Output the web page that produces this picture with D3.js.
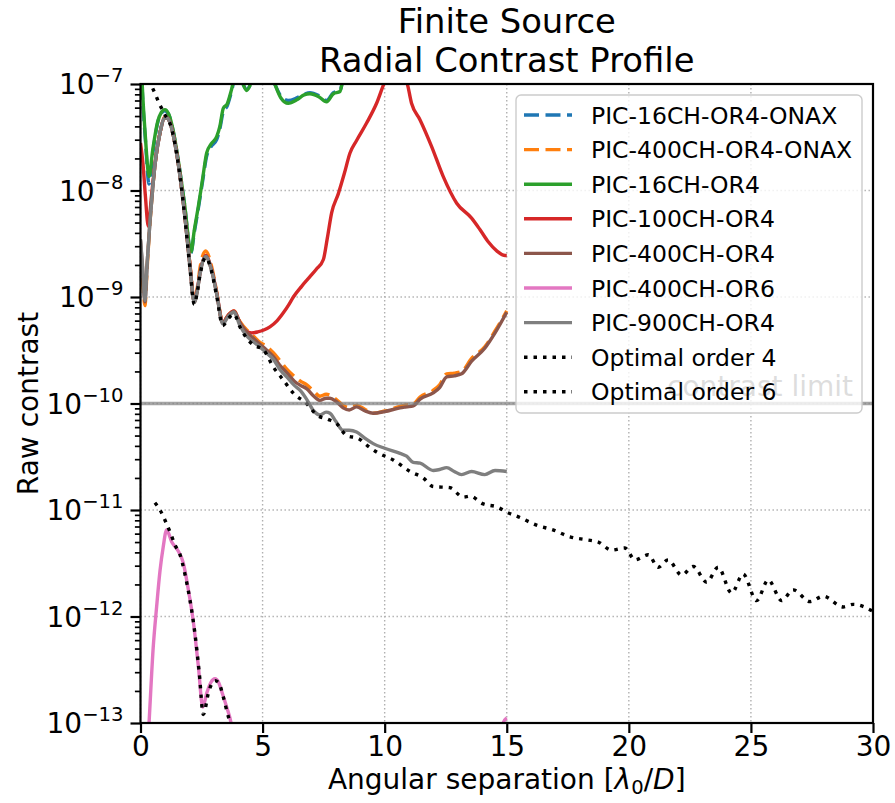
<!DOCTYPE html>
<html>
<head>
<meta charset="utf-8">
<script src="https://cdn.jsdelivr.net/npm/d3@7"></script>
<style>
  body { margin: 0; background: #fff; }
  text { font-family: "DejaVu Sans", sans-serif; }
</style>
</head>
<body>
<div id="chart"></div>
<script>
// values: separation in lambda0/D, raw contrast
var sepOnax16 = [0, 0.07, 0.2, 0.35, 0.5, 0.7, 0.85, 1.0, 1.15, 1.35, 1.55, 1.8, 2.07, 2.2, 2.37, 2.55, 2.71, 2.9, 3.12, 3.25, 3.39, 3.55, 3.73, 3.9, 4.1, 4.35, 4.6, 5.0, 5.3, 5.5, 5.75, 6.05, 6.4, 6.7, 6.94, 7.3, 7.62, 7.9, 8.17, 8.3, 8.6, 9.0, 10.0, 12.0, 15.0];
var onax16 = [2.5e-7, 9.0e-8, 3.0e-8, 1.15e-8, 2.2e-8, 4.3e-8, 5.3e-8, 5.6e-8, 5.2e-8, 3.5e-8, 1.9e-8, 7.5e-9, 2.6e-9, 4.0e-9, 6.8e-9, 1.25e-8, 2.1e-8, 2.6e-8, 3.0e-8, 3.8e-8, 5.5e-8, 6.2e-8, 8.5e-8, 1.2e-7, 1.1e-7, 8.9e-8, 1.1e-7, 1.6e-7, 1.32e-7, 1.0e-7, 7.7e-8, 7.0e-8, 7.4e-8, 8.0e-8, 8.3e-8, 7.8e-8, 7.0e-8, 8.3e-8, 8.7e-8, 1.12e-7, 1.6e-7, 2.0e-7, 2.5e-7, 2.5e-7, 3.0e-7];

var sep16 = sepOnax16;
var ch16 = [2.5e-7, 1.0e-7, 3.2e-8, 1.35e-8, 2.4e-8, 4.4e-8, 5.4e-8, 5.75e-8, 5.25e-8, 3.55e-8, 1.9e-8, 7.6e-9, 2.66e-9, 4.2e-9, 7.1e-9, 1.32e-8, 2.25e-8, 2.75e-8, 3.2e-8, 4.0e-8, 5.9e-8, 6.5e-8, 8.9e-8, 1.26e-7, 1.12e-7, 8.7e-8, 1.12e-7, 1.6e-7, 1.32e-7, 1.0e-7, 7.4e-8, 6.6e-8, 7.1e-8, 7.9e-8, 8.1e-8, 7.6e-8, 6.8e-8, 8.1e-8, 8.5e-8, 1.12e-7, 1.6e-7, 2.0e-7, 2.5e-7, 2.5e-7, 3.0e-7];

var sepMain = [0, 0.08, 0.18, 0.28, 0.39, 0.5, 0.6, 0.8, 1.0, 1.1, 1.21, 1.41, 1.62, 1.82, 2.03, 2.2, 2.32, 2.44, 2.67, 2.91, 3.12, 3.37, 3.6, 3.83, 4.07, 4.35, 4.62, 4.89, 5.15, 5.44, 5.7, 5.99, 6.3, 6.55, 6.8, 7.1, 7.35, 7.6, 7.76, 8.0, 8.3, 8.55, 8.85, 9.2, 9.53, 10.0, 10.63, 10.9, 11.17, 11.45, 11.99, 12.25, 12.54, 12.85, 13.15, 13.56, 14.1, 14.52, 15.0];
var onax400 = [2.4e-9, 1.5e-9, 8.3e-10, 2.0e-9, 5.0e-9, 1.05e-8, 1.8e-8, 3.5e-8, 4.9e-8, 4.9e-8, 4.4e-8, 2.8e-8, 1.38e-8, 5.8e-9, 2.0e-9, 9.2e-10, 1.2e-9, 1.9e-9, 2.7e-9, 1.95e-9, 1.12e-9, 5.8e-10, 6.8e-10, 7.4e-10, 5.9e-10, 4.9e-10, 4.3e-10, 3.75e-10, 3.45e-10, 3.0e-10, 2.55e-10, 2.1e-10, 1.8e-10, 1.62e-10, 1.5e-10, 1.3e-10, 1.17e-10, 1.22e-10, 1.2e-10, 1.1e-10, 9.6e-11, 9.2e-11, 9.6e-11, 8.8e-11, 8.1e-11, 8.5e-11, 9.4e-11, 9.7e-11, 9.9e-11, 1.15e-10, 1.33e-10, 1.5e-10, 1.9e-10, 1.93e-10, 2.0e-10, 2.65e-10, 3.4e-10, 4.8e-10, 7.4e-10];
var ch400or4 = [3.4e-9, 1.9e-9, 9.0e-10, 2.2e-9, 5.2e-9, 1.05e-8, 1.8e-8, 3.5e-8, 4.8e-8, 4.8e-8, 4.3e-8, 2.75e-8, 1.35e-8, 5.6e-9, 1.9e-9, 8.9e-10, 1.12e-9, 1.7e-9, 2.4e-9, 1.8e-9, 1.08e-9, 5.7e-10, 6.7e-10, 7.3e-10, 5.75e-10, 4.7e-10, 4.1e-10, 3.6e-10, 3.2e-10, 2.75e-10, 2.3e-10, 1.95e-10, 1.62e-10, 1.48e-10, 1.38e-10, 1.17e-10, 1.07e-10, 1.12e-10, 1.12e-10, 1.05e-10, 9.1e-11, 8.7e-11, 9.3e-11, 8.5e-11, 8.1e-11, 8.4e-11, 9.1e-11, 9.3e-11, 9.5e-11, 1.1e-10, 1.26e-10, 1.41e-10, 1.78e-10, 1.82e-10, 1.9e-10, 2.5e-10, 3.3e-10, 4.6e-10, 7.2e-10];
var ch900or4 = [3.5e-9, 2.0e-9, 9.3e-10, 2.2e-9, 5.2e-9, 1.05e-8, 1.8e-8, 3.5e-8, 4.8e-8, 4.8e-8, 4.3e-8, 2.75e-8, 1.35e-8, 5.6e-9, 1.9e-9, 8.9e-10, 1.12e-9, 1.66e-9, 2.4e-9, 1.78e-9, 1.07e-9, 5.6e-10, 6.6e-10, 7.2e-10, 5.4e-10, 4.3e-10, 3.8e-10, 3.4e-10, 3.0e-10, 2.6e-10, 2.1e-10, 1.78e-10, 1.48e-10, 1.32e-10, 1.1e-10, 8.5e-11, 7.8e-11, 8.3e-11, 8.1e-11, 6.8e-11, 5.6e-11, 5.6e-11, 5.4e-11, 4.7e-11, 4.2e-11, 3.8e-11, 3.4e-11, 3.2e-11, 2.8e-11, 2.75e-11, 2.35e-11, 2.4e-11, 2.5e-11, 2.3e-11, 2.15e-11, 2.3e-11, 2.15e-11, 2.35e-11, 2.3e-11];

var sep100 = [0, 0.1, 0.2, 0.32, 0.45, 0.6, 0.8, 1.0, 1.1, 1.21, 1.41, 1.62, 1.82, 2.03, 2.2, 2.32, 2.44, 2.67, 2.91, 3.12, 3.37, 3.6, 3.83, 4.07, 4.3, 4.55, 4.8, 5.05, 5.3, 5.6, 5.85, 6.05, 6.26, 6.6, 6.94, 7.2, 7.49, 7.65, 7.83, 8.1, 8.35, 8.58, 8.85, 9.26, 9.67, 10.01, 10.3, 10.6, 10.9, 11.1, 11.45, 11.92, 12.4, 12.95, 13.56, 13.9, 14.24, 14.6, 14.93, 15.0];
var ch100 = [2.8e-8, 1.8e-8, 8.9e-9, 4.6e-9, 8.9e-9, 1.8e-8, 3.5e-8, 4.8e-8, 4.8e-8, 4.35e-8, 2.8e-8, 1.38e-8, 5.7e-9, 1.95e-9, 9.1e-10, 1.15e-9, 1.7e-9, 2.45e-9, 1.82e-9, 1.1e-9, 5.75e-10, 6.8e-10, 7.4e-10, 5.75e-10, 4.8e-10, 4.6e-10, 4.7e-10, 4.9e-10, 5.25e-10, 6.0e-10, 7.1e-10, 8.3e-10, 1.0e-9, 1.26e-9, 1.55e-9, 1.82e-9, 2.25e-9, 3.55e-9, 6.2e-9, 9.3e-9, 1.45e-8, 2.25e-8, 2.95e-8, 4.3e-8, 6.6e-8, 1.05e-7, 1.32e-7, 1.26e-7, 1.05e-7, 6.6e-8, 4.6e-8, 2.6e-8, 1.35e-8, 7.6e-9, 5.5e-9, 4.3e-9, 3.3e-9, 2.7e-9, 2.45e-9, 2.45e-9];

var sep400or6 = [0.2, 0.35, 0.52, 0.66, 0.8, 0.93, 1.07, 1.28, 1.55, 1.75, 1.96, 2.16, 2.37, 2.55, 2.71, 2.88, 3.05, 3.2, 3.32, 3.53, 3.71, 3.9, 5.0, 8.0, 12.0, 14.6, 14.85, 15.0];
var ch400or6 = [2.5e-14, 1.0e-13, 5.1e-13, 1.23e-12, 2.7e-12, 4.5e-12, 6.5e-12, 5.0e-12, 4.1e-12, 3.2e-12, 1.78e-12, 9.1e-13, 3.4e-13, 1.41e-13, 1.9e-13, 2.4e-13, 2.6e-13, 2.4e-13, 2.0e-13, 1.41e-13, 1.0e-13, 5e-14, 2.5e-14, 1.6e-14, 2.0e-14, 5e-14, 1.0e-13, 1.12e-13];

var sepOpt4 = [0.5, 0.62, 0.76, 0.89, 1.03, 1.2, 1.41, 1.62, 1.82, 2.03, 2.2, 2.32, 2.44, 2.67, 2.91, 3.12, 3.37, 3.6, 3.83, 4.07, 4.35, 4.62, 5.03, 5.44, 5.85, 6.26, 6.8, 7.22, 7.69, 8.03, 8.44, 8.92, 9.3, 9.67, 10.35, 11.04, 11.58, 11.99, 12.67, 13.22, 13.49, 14.04, 14.59, 15.02, 15.54, 16.22, 16.9, 17.59, 18.27, 18.75, 19.3, 19.84, 20.25, 20.8, 21.2, 21.61, 22.16, 22.64, 23.19, 23.66, 24.21, 24.68, 25.23, 25.71, 26.26, 26.73, 27.42, 27.96, 28.78, 29.19, 30.0];
var opt4 = [9.1e-8, 7.9e-8, 6.6e-8, 5.75e-8, 5.0e-8, 4.3e-8, 2.75e-8, 1.35e-8, 5.5e-9, 1.82e-9, 8.5e-10, 1.1e-9, 1.62e-9, 2.35e-9, 1.74e-9, 1.02e-9, 5.4e-10, 6.3e-10, 6.9e-10, 5.25e-10, 4.1e-10, 3.55e-10, 3.2e-10, 2.2e-10, 1.66e-10, 1.25e-10, 1.0e-10, 7.8e-11, 7.1e-11, 6.5e-11, 5.0e-11, 4.7e-11, 4.0e-11, 3.5e-11, 2.95e-11, 2.3e-11, 2.0e-11, 1.66e-11, 1.62e-11, 1.32e-11, 1.35e-11, 1.14e-11, 1.07e-11, 9.5e-12, 8.5e-12, 7.2e-12, 6.5e-12, 5.6e-12, 5.25e-12, 5.0e-12, 4.2e-12, 4.4e-12, 3.4e-12, 3.8e-12, 2.9e-12, 3.4e-12, 2.45e-12, 2.95e-12, 2.1e-12, 2.9e-12, 1.66e-12, 2.5e-12, 1.41e-12, 2.2e-12, 1.41e-12, 1.78e-12, 1.38e-12, 1.55e-12, 1.23e-12, 1.3e-12, 1.12e-12];

var sepOpt6 = [0.59, 0.8, 1.07, 1.25, 1.41, 1.62, 1.82, 2.03, 2.23, 2.41, 2.57, 2.8, 3.05, 3.2, 3.39, 3.55, 3.7, 4.0, 5.0];
var opt6 = [1.17e-11, 1.0e-11, 7.4e-12, 5.9e-12, 4.7e-12, 3.8e-12, 2.5e-12, 1.41e-12, 6.9e-13, 2.9e-13, 1.2e-13, 2.0e-13, 2.5e-13, 2.4e-13, 1.76e-13, 1.26e-13, 9.5e-14, 5.0e-14, 2.5e-14];

var contrastLimit = 1e-10;
var xTicks = [0, 5, 10, 15, 20, 25, 30];
var yExponents = [-13, -12, -11, -10, -9, -8, -7];

var series = [
  {name: "PIC-16CH-OR4-ONAX",  xs: sepOnax16, ys: onax16,   color: "#1f77b4", dash: "15,6.5"},
  {name: "PIC-400CH-OR4-ONAX", xs: sepMain,   ys: onax400,  color: "#ff7f0e", dash: "15,6.5"},
  {name: "PIC-16CH-OR4",       xs: sep16,     ys: ch16,     color: "#2ca02c", dash: null},
  {name: "PIC-100CH-OR4",      xs: sep100,    ys: ch100,    color: "#d62728", dash: null},
  {name: "PIC-400CH-OR4",      xs: sepMain,   ys: ch400or4, color: "#8c564b", dash: null},
  {name: "PIC-400CH-OR6",      xs: sep400or6, ys: ch400or6, color: "#e377c2", dash: null},
  {name: "PIC-900CH-OR4",      xs: sepMain,   ys: ch900or4, color: "#7f7f7f", dash: null},
  {name: "Optimal order 4",    xs: sepOpt4,   ys: opt4,     color: "#000000", dash: "3.5,6"},
  {name: "Optimal order 6",    xs: sepOpt6,   ys: opt6,     color: "#000000", dash: "3.5,6"}
];

var width = 895, height = 803;
var plotL = 140.5, plotR = 873, plotT = 84, plotB = 723;

var x = d3.scaleLinear().domain([0, 30]).range([plotL, plotR]);
var y = d3.scaleLog().domain([1e-13, 1e-7]).range([plotB, plotT]);

var svg = d3.select("#chart")
    .append("svg")
    .attr("width", width)
    .attr("height", height);

svg.append("defs").append("clipPath")
    .attr("id", "plot-clip")
  .append("rect")
    .attr("x", plotL).attr("y", plotT)
    .attr("width", plotR - plotL).attr("height", plotB - plotT);

// grid
var grid = svg.append("g").attr("class", "grid")
    .attr("stroke", "#b0b0b0").attr("stroke-width", 1.4).attr("stroke-dasharray", "1.4,2.6");
grid.selectAll("line.gx").data(xTicks).enter().append("line")
    .attr("x1", d => x(d)).attr("x2", d => x(d))
    .attr("y1", plotT).attr("y2", plotB);
grid.selectAll("line.gy").data(yExponents).enter().append("line")
    .attr("x1", plotL).attr("x2", plotR)
    .attr("y1", d => y(Math.pow(10, d))).attr("y2", d => y(Math.pow(10, d)));

// curves
var plot = svg.append("g").attr("clip-path", "url(#plot-clip)");
var line = d3.line()
    .x(d => x(d[0]))
    .y(d => y(d[1]))
    .curve(d3.curveMonotoneX);

series.forEach(function(s) {
  plot.append("path")
      .datum(s.xs.map((v, i) => [v, s.ys[i]]))
      .attr("fill", "none")
      .attr("stroke", s.color)
      .attr("stroke-width", 3.4)
      .attr("stroke-dasharray", s.dash)
      .attr("stroke-linejoin", "round")
      .attr("d", line);
});

// contrast limit
plot.append("line")
    .attr("x1", plotL).attr("x2", plotR)
    .attr("y1", y(contrastLimit)).attr("y2", y(contrastLimit))
    .attr("stroke", "#7f7f7f").attr("stroke-opacity", 0.7).attr("stroke-width", 3.4);
svg.append("text")
    .attr("x", 853).attr("y", y(contrastLimit) - 8)
    .attr("text-anchor", "end")
    .attr("font-size", 28)
    .attr("fill", "#555")
    .text("contrast limit");

// axes
var xAxis = d3.axisBottom(x).tickValues(xTicks).tickSize(10).tickPadding(3).tickFormat(d3.format("d"));
var gx = svg.append("g").attr("transform", `translate(0,${plotB})`).call(xAxis);
gx.select(".domain").remove();
gx.selectAll("line").attr("stroke", "#000").attr("stroke-width", 2.2);
gx.selectAll("text").attr("font-size", 28).attr("font-family", "DejaVu Sans").attr("fill", "#000");

var minor = [];
yExponents.slice(0, -1).forEach(function(e) {
  for (var k = 2; k < 10; k++) minor.push(k * Math.pow(10, e));
});
var gyMinor = svg.append("g").attr("transform", `translate(${plotL},0)`)
    .call(d3.axisLeft(y).tickValues(minor).tickSize(5.6).tickFormat(""));
gyMinor.select(".domain").remove();
gyMinor.selectAll("line").attr("stroke", "#000").attr("stroke-width", 1.7);

var gy = svg.append("g").attr("transform", `translate(${plotL},0)`)
    .call(d3.axisLeft(y).tickValues(yExponents.map(e => Math.pow(10, e))).tickSize(10).tickFormat(""));
gy.select(".domain").remove();
gy.selectAll("line").attr("stroke", "#000").attr("stroke-width", 2.2);

yExponents.forEach(function(e) {
  var t = svg.append("text")
      .attr("x", plotL - 17)
      .attr("y", y(Math.pow(10, e)) + 10)
      .attr("text-anchor", "end")
      .attr("font-size", 28);
  t.append("tspan").text("10");
  t.append("tspan").attr("dy", -12).attr("font-size", 19.6).text("\u2212" + Math.abs(e));
});

// frame
svg.append("rect")
    .attr("x", plotL).attr("y", plotT)
    .attr("width", plotR - plotL).attr("height", plotB - plotT)
    .attr("fill", "none").attr("stroke", "#000").attr("stroke-width", 2.2);

// labels
var xl = svg.append("text")
    .attr("x", (plotL + plotR) / 2).attr("y", 789)
    .attr("text-anchor", "middle").attr("font-size", 28);
xl.append("tspan").text("Angular separation [");
xl.append("tspan").attr("font-style", "italic").text("\u03bb");
xl.append("tspan").attr("font-size", 19.6).attr("dy", 5).text("0");
xl.append("tspan").attr("dy", -5).text("/");
xl.append("tspan").attr("font-style", "italic").text("D");
xl.append("tspan").text("]");

svg.append("text")
    .attr("transform", `translate(38,${(plotT + plotB) / 2}) rotate(-90)`)
    .attr("text-anchor", "middle").attr("font-size", 28)
    .text("Raw contrast");

svg.append("text")
    .attr("x", (plotL + plotR) / 2).attr("y", 33)
    .attr("text-anchor", "middle").attr("font-size", 33.8)
    .text("Finite Source");
svg.append("text")
    .attr("x", (plotL + plotR) / 2).attr("y", 72)
    .attr("text-anchor", "middle").attr("font-size", 33.8)
    .text("Radial Contrast Profile");

// legend
var legend = svg.append("g");
legend.append("rect")
    .attr("x", 516).attr("y", 95).attr("width", 346).attr("height", 318)
    .attr("rx", 5)
    .attr("fill", "#fff").attr("fill-opacity", 0.8)
    .attr("stroke", "#cccccc").attr("stroke-width", 1.4);
series.forEach(function(s, i) {
  var cy = 115 + i * 34.6;
  legend.append("line")
      .attr("x1", 524).attr("x2", 572)
      .attr("y1", cy).attr("y2", cy)
      .attr("stroke", s.color).attr("stroke-width", 3.4)
      .attr("stroke-dasharray", s.dash);
  legend.append("text")
      .attr("x", 591).attr("y", cy + 8.5)
      .attr("font-size", 23.5)
      .text(s.name);
});
</script>
</body>
</html>
